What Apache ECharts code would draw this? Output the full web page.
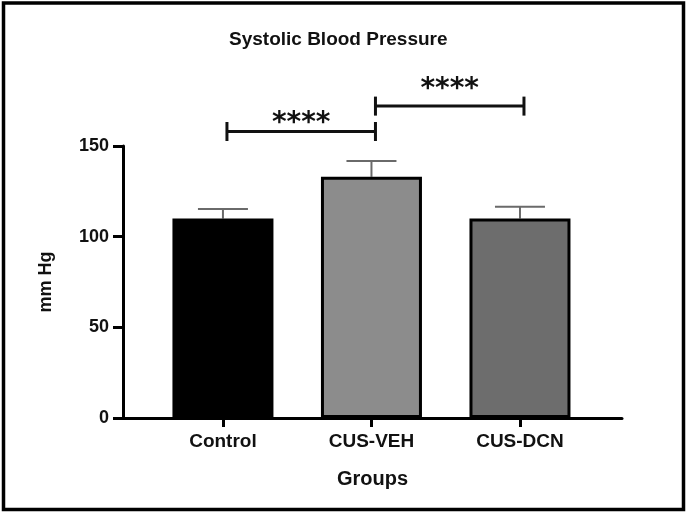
<!DOCTYPE html>
<html>
<head>
<meta charset="utf-8">
<script src="https://cdn.jsdelivr.net/npm/echarts@6/dist/echarts.min.js"></script>
<style>html,body{margin:0;padding:0;background:#fff;}#c{width:688px;height:514px;}</style>
</head>
<body>
<div id="c"></div>
<script>
const categories = ['Control', 'CUS-VEH', 'CUS-DCN'];
const means = [110, 133, 110];
const errors = [5.3, 8.7, 6.5];
const yTicks = [0, 50, 100, 150];
const bracketFrom = [0, 1];
const bracketTo = [1, 2];
const bracketLevel = [158, 172];
const bracketLabels = ['****', '****'];

const barFills = ['#000000', '#8c8c8c', '#6d6d6d'];
const labelLift = [-6, 2];
const FONT = '"Liberation Sans", Arial, sans-serif';
const txt = { fontFamily: FONT, fontWeight: 'bold', fontSize: 18, color: '#111' };

const chart = echarts.init(document.getElementById('c'), null, { renderer: 'canvas' });
const catIdx = categories.map((_, i) => i);

chart.setOption({
  backgroundColor: '#fff',
  animation: false,
  title: {
    text: 'Systolic Blood Pressure', left: 224, top: 25,
    textStyle: { fontFamily: FONT, fontWeight: 'bold', fontSize: 19, color: '#111' }
  },
  graphic: [{
    type: 'rect', silent: true,
    shape: { x: 3.5, y: 3, width: 680, height: 506.5 },
    style: { fill: 'none', stroke: '#000', lineWidth: 3.5 }
  }],
  grid: { left: 123, right: 66, top: 146, bottom: 96 },
  xAxis: {
    type: 'value', min: -0.673, max: 2.687,
    axisLine: { show: true, onZero: false, lineStyle: { color: '#000', width: 3 } },
    axisTick: { show: true, customValues: catIdx, length: 9, lineStyle: { color: '#000', width: 3 } },
    axisLabel: Object.assign({ customValues: catIdx, margin: 14, formatter: v => categories[Math.round(v)] }, txt, { fontSize: 19 }),
    splitLine: { show: false },
    name: 'Groups', nameLocation: 'middle', nameGap: 51,
    nameTextStyle: Object.assign({}, txt, { fontSize: 20 })
  },
  yAxis: {
    type: 'value', min: yTicks[0], max: yTicks[yTicks.length - 1], interval: yTicks[1] - yTicks[0],
    axisLine: { show: true, onZero: false, lineStyle: { color: '#000', width: 3 } },
    axisTick: { show: true, length: 10, lineStyle: { color: '#000', width: 3 } },
    axisLabel: Object.assign({ margin: 14 }, txt),
    splitLine: { show: false },
    name: 'mm Hg', nameLocation: 'middle', nameGap: 68, nameRotate: 90,
    nameTextStyle: Object.assign({}, txt)
  },
  series: [
    {
      type: 'custom', z: 1,
      data: means.map((m, i) => [i, m, errors[i]]),
      renderItem: function (params, api) {
        const x = api.value(0), m = api.value(1), e = api.value(2);
        const b = api.coord([x, m]);
        const t = api.coord([x, m + e]);
        const half = 25;
        const st = { stroke: '#6a6a6a', lineWidth: 2, fill: 'none' };
        return {
          type: 'group', children: [
            { type: 'line', shape: { x1: b[0], y1: b[1], x2: t[0], y2: t[1] }, style: st },
            { type: 'line', shape: { x1: t[0] - half, y1: t[1], x2: t[0] + half, y2: t[1] }, style: st }
          ]
        };
      }
    },
    {
      type: 'bar', z: 2,
      barWidth: 101,
      data: means.map((m, i) => ({ value: [i, m], itemStyle: { color: barFills[i], borderColor: '#000', borderWidth: 3 } }))
    },
    {
      type: 'custom', z: 3, clip: false,
      data: bracketFrom.map((f, i) => [f, bracketTo[i], bracketLevel[i]]),
      renderItem: function (params, api) {
        const a = api.coord([api.value(0), api.value(2)]);
        const b = api.coord([api.value(1), api.value(2)]);
        const sh = 4;
        const x1 = a[0] + sh, x2 = b[0] + sh, y = a[1];
        const st = { stroke: '#111', lineWidth: 3, fill: 'none' };
        return {
          type: 'group', children: [
            { type: 'line', shape: { x1: x1, y1: y, x2: x2, y2: y }, style: st },
            { type: 'line', shape: { x1: x1, y1: y - 9.5, x2: x1, y2: y + 9.5 }, style: st },
            { type: 'line', shape: { x1: x2, y1: y - 9.5, x2: x2, y2: y + 9.5 }, style: st },
            { type: 'text', style: { text: bracketLabels[params.dataIndex], x: (x1 + x2) / 2, y: y - labelLift[params.dataIndex],
              align: 'center', verticalAlign: 'bottom', fill: '#111',
              font: 'bold 28px "DejaVu Sans", sans-serif' } }
          ]
        };
      }
    }
  ]
});
</script>
</body>
</html>
